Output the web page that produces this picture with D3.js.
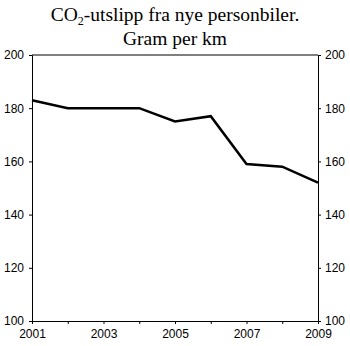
<!DOCTYPE html>
<html><head><meta charset="utf-8">
<script src="https://cdn.jsdelivr.net/npm/d3@7"></script>
<style>body{margin:0;background:#fff}svg{display:block}</style>
</head><body>
<script>
const years = [2001,2002,2003,2004,2005,2006,2007,2008,2009];
const values = [183,180,180,180,175,177,159,158,152];
const yTicks = [100,120,140,160,180,200];
const xTickLabels = [2001,2003,2005,2007,2009];

const W=350,H=346;
const m={left:32,right:32,top:55,bottom:25};
const svg=d3.select("body").append("svg").attr("width",W).attr("height",H);
const x=d3.scaleLinear().domain([2001,2009]).range([m.left,W-m.right]);
const y=d3.scaleLinear().domain([100,200]).range([H-m.bottom,m.top]);

const title=svg.append("text").attr("x",175).attr("text-anchor","middle")
 .attr("font-family","Liberation Serif, DejaVu Serif, serif").attr("font-size","19.5px");
const t1=title.append("tspan").attr("x",175).attr("y",21);
t1.append("tspan").text("CO");
t1.append("tspan").text("2").attr("dy",4).attr("font-size","12px");
t1.append("tspan").text("-utslipp fra nye personbiler.").attr("dy",-4);
title.append("tspan").attr("x",175).attr("y",45).text("Gram per km");

const font="Liberation Sans, Arial, sans-serif";
function style(g){g.selectAll("text").attr("font-family",font).attr("font-size","12px").attr("fill","#000");
 g.selectAll("line,path").attr("stroke","#000");}

svg.append("g").attr("transform",`translate(${m.left},0)`)
 .call(d3.axisLeft(y).tickValues(yTicks).tickSize(3).tickPadding(5).tickFormat(d3.format("d"))).call(style);
svg.append("g").attr("transform",`translate(${W-m.right},0)`)
 .call(d3.axisRight(y).tickValues(yTicks).tickSize(3).tickPadding(4).tickFormat(d3.format("d"))).call(style);
svg.append("g").attr("transform",`translate(0,${H-m.bottom})`)
 .call(d3.axisBottom(x).tickValues(years).tickSize(3).tickPadding(5).tickSizeOuter(0)
 .tickFormat(d=>xTickLabels.includes(d)?d:"")).call(style);
svg.append("line").attr("x1",m.left).attr("x2",W-m.right).attr("y1",y(200)).attr("y2",y(200)).attr("stroke","#000");

svg.append("path").datum(years.map((d,i)=>[d,values[i]]))
 .attr("fill","none").attr("stroke","#000").attr("stroke-width",2.5).attr("stroke-linejoin","miter")
 .attr("d",d3.line().x(d=>x(d[0])).y(d=>y(d[1])));
</script>
</body></html>
